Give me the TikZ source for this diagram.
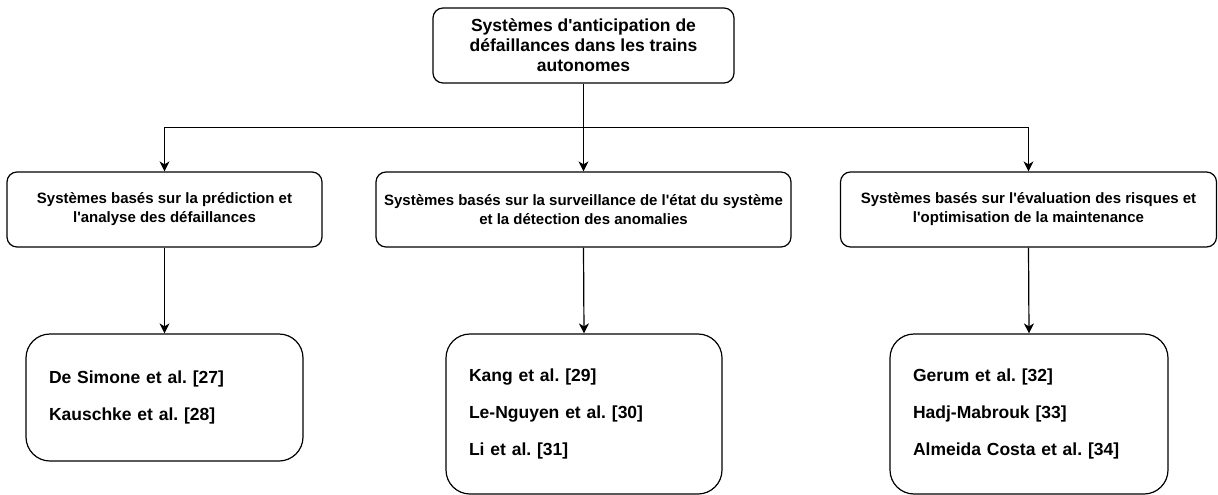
\documentclass[tikz,border=0pt]{standalone}
\usepackage{fontspec}
\setmainfont{Liberation Sans}[Ligatures=TeXOff]
\usetikzlibrary{arrows.meta}
\frenchspacing
\tikzset{
  topbox/.style={draw=black, line width=1.2pt, rounded corners=10pt, align=center,
    minimum width=301pt, minimum height=75pt, inner sep=0pt,
    font=\frenchspacing\bfseries\fontsize{17.5}{20}\selectfont},
  catbox/.style={draw=black, line width=1.2pt, rounded corners=10pt, align=center,
    minimum height=75pt, inner sep=0pt,
    font=\frenchspacing\bfseries\fontsize{15}{19}\selectfont},
  refbox/.style={draw=black, line width=1.2pt, rounded corners=24pt, align=left,
    inner xsep=23pt, inner ysep=0pt,
    font=\frenchspacing\bfseries\fontsize{17.5}{37}\selectfont},
  conn/.style={draw=black, line width=1.2pt, -{Stealth[length=10pt,width=10pt,inset=3pt]}}
}
\begin{document}
\begin{tikzpicture}[x=1pt,y=-1pt]
\useasboundingbox (0,0) rectangle (1218,495);
\node[topbox] (top) at (583.5,45.5) {Systèmes d'anticipation de\\défaillances dans les trains\\autonomes};
\node[catbox, minimum width=315pt] (c1) at (164.5,209.5) {Systèmes basés sur la prédiction et\\l'analyse des défaillances};
\node[catbox, minimum width=415pt] (c2) at (583.5,209.5) {Systèmes basés sur la surveillance de l'état du système\\et la détection des anomalies};
\node[catbox, minimum width=376pt] (c3) at (1028.5,209.5) {Systèmes basés sur l'évaluation des risques et\\l'optimisation de la maintenance};
\node[refbox, text width=231pt, minimum height=127pt] (r1) at (164.5,397.5) {De Simone et al. [27]\\Kauschke et al. [28]};
\node[refbox, text width=230pt, minimum height=160pt] (r2) at (584,414) {Kang et al. [29]\\Le-Nguyen et al. [30]\\Li et al. [31]};
\node[refbox, text width=232pt, minimum height=160pt] (r3) at (1029,414) {Gerum et al. [32]\\Hadj-Mabrouk [33]\\Almeida Costa et al. [34]};
\coordinate (split) at (583.5,127.5);
\draw[conn] (top.south) -- (c2.north);
\draw[conn] (split) -| (c1.north);
\draw[conn] (split) -| (c3.north);
\draw[conn] (c1.south) -- (r1.north);
\draw[conn] (c2.south) -- (r2.north);
\draw[conn] (c3.south) -- (r3.north);
\end{tikzpicture}
\end{document}
